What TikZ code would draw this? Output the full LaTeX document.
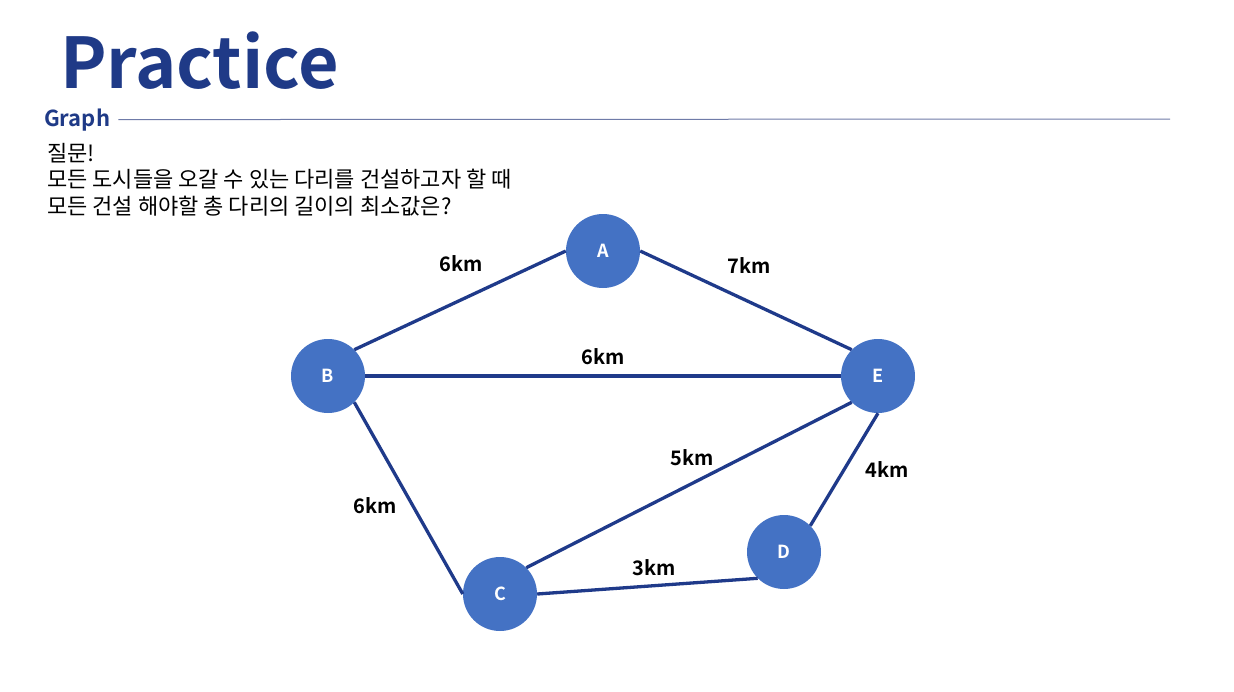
\documentclass[tikz,border=0pt]{standalone}
\usepackage{fontspec}
\setmainfont{Noto Sans CJK KR}
\newfontfamily\krfont{Noto Sans CJK KR}
\newfontfamily\krbold{Noto Sans CJK KR Bold}
\usetikzlibrary{calc}
\definecolor{titleblue}{HTML}{1F3A87}
\definecolor{nodeblue}{HTML}{4472C4}
\definecolor{edgeblue}{HTML}{1F3A8A}
\definecolor{ruleblue}{HTML}{6F7BA8}
\tikzstyle{city} = [circle, fill=nodeblue, draw=none, minimum size=74pt, inner sep=0pt, text=white, font=\krbold\fontsize{18}{20}\selectfont]
\tikzstyle{bridge} = [draw=edgeblue, line width=3.3pt]
\tikzstyle{dist} = [font=\krbold\fontsize{20}{22}\selectfont, text=black, inner sep=0pt]

\begin{document}
\begin{tikzpicture}[x=1pt,y=-1pt]

            \useasboundingbox (0,0) rectangle (1234,691);

            %% title

            \node (title) [anchor=base west, inner sep=0pt, text=titleblue, font=\krbold\fontsize{70}{72}\selectfont] at (60,88) {Practice};
            \node (sub) [anchor=base west, inner sep=0pt, text=titleblue, font=\krbold\fontsize{22}{24}\selectfont] at (44,126) {Graph};
            \coordinate (rule) at (1170,119);
            \draw [draw=ruleblue, line width=1pt] ($(sub.east)+(8,0)$) -- (rule);

            \node (q1) [anchor=base west, inner sep=0pt, font=\krfont\fontsize{22}{24}\selectfont] at (47,161) {질문!};
            \node (q2) [anchor=base west, inner sep=0pt, font=\krfont\fontsize{22}{24}\selectfont] at (47,187) {모든 도시들을 오갈 수 있는 다리를 건설하고자 할 때};
            \node (q3) [anchor=base west, inner sep=0pt, font=\krfont\fontsize{22}{24}\selectfont] at (47,214) {모든 건설 해야할 총 다리의 길이의 최소값은?};

            %% graph

            \node (A) [city] at (603,251) {A};
            \node (B) [city] at (328,376) {B};
            \node (C) [city] at (500,594) {C};
            \node (D) [city] at (784,552) {D};
            \node (E) [city] at (878,376) {E};

            \draw [bridge] (B.north east) -- (A.west);
            \draw [bridge] (A.east) -- (E.north west);
            \draw [bridge] (B.east) -- (E.west);
            \draw [bridge] (B.south east) -- (C.west);
            \draw [bridge] (C.north east) -- (E.south west);
            \draw [bridge] (E.south) -- (D.north east);
            \draw [bridge] (C.east) -- (D.south west);

            \node [dist] at (461,264) {6km};
            \node [dist] at (749,266) {7km};
            \node [dist] at (603,357) {6km};
            \node [dist] at (375,506) {6km};
            \node [dist] at (692,458) {5km};
            \node [dist] at (887,470) {4km};
            \node [dist] at (654,568) {3km};

        \end{tikzpicture}
\end{document}
